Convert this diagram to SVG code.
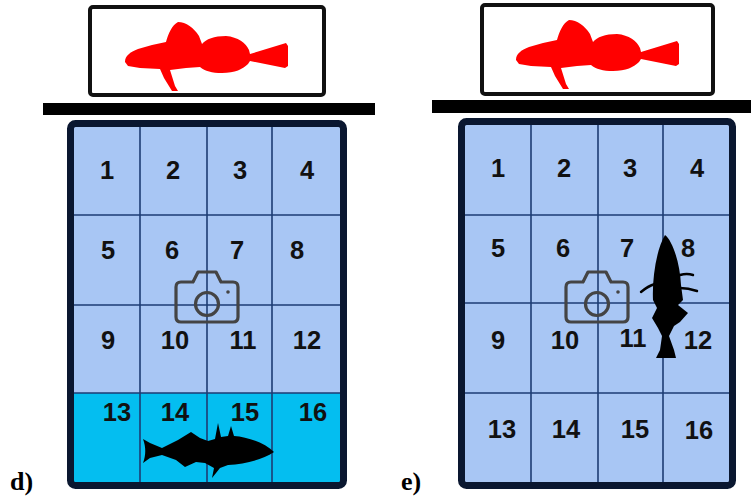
<svg xmlns="http://www.w3.org/2000/svg" width="751" height="496" viewBox="0 0 751 496">
  <defs>
    <style>
      .tank { fill: #ffffff; stroke: #111111; stroke-width: 4; }
      .bar { fill: #000000; }
      .frame { fill: none; stroke: #0a1730; stroke-width: 7; }
      .cell { fill: #a8c6f4; }
      .hot { fill: #04bef0; }
      .grid { stroke: #1d3c74; stroke-width: 1.6; fill: none; }
      .num { font-family: "Liberation Sans", Arial, sans-serif; font-weight: bold; font-size: 25.5px; fill: #111111; text-anchor: middle; }
      .cam { fill: none; stroke: #444444; stroke-width: 3.2; stroke-linejoin: round; }
      .panel { font-family: "Liberation Serif", "Times New Roman", serif; font-weight: bold; font-size: 26px; fill: #000000; }
      .red { fill: #ff0000; }
      .fish { fill: #000000; }
      .fin { fill: none; stroke: #000000; stroke-width: 2.4; stroke-linecap: round; }
    </style>
    <!-- red sculpin silhouette shown in the overhead tank -->
    <path id="sculpin" class="red" d="M 125 62 C 125 56 130 52 138 49 L 152 45 L 166 42 C 168 34 172 25 178 22 C 186 22 194 28 199 36 L 202 44 C 206 39 214 36 226 36 C 238 37 246 43 249 50 L 250 54 L 286 43 L 288 46 L 288 66 L 285 68 L 250 61 L 248 64 C 243 69 235 73 222 73 C 212 73 205 71 200 67 L 186 68 L 170 70 L 175 86 L 178 91 L 172 91 L 164 78 L 160 69 L 140 68 L 128 66 Z"/>
    <!-- camera outline icon -->
    <g id="camera">
      <path class="cam" d="M 181 282 L 193 282 L 198 272 L 216 272 L 221 282 L 233 282 Q 238 282 238 287 L 238 317 Q 238 322 233 322 L 181 322 Q 176 322 176 317 L 176 287 Q 176 282 181 282 Z"/>
      <circle class="cam" cx="207" cy="304" r="11.5"/>
      <circle cx="228" cy="292" r="1.8" fill="#444444"/>
    </g>
  </defs>

  <!-- panel d -->
  <g id="panel-d">
    <g id="tank-d">
      <rect class="tank" x="90" y="7" width="234" height="88" rx="3"/>
      <use href="#sculpin"/>
    </g>
    <rect id="shelf-d" class="bar" x="43" y="103" width="332" height="12"/>
    <g id="grid-d">
      <rect class="cell" x="74" y="127" width="266" height="266"/>
      <rect class="hot" x="74" y="393" width="266" height="89"/>
      <path class="grid" d="M 140 127 V 482 M 207 127 V 482 M 272 127 V 482 M 74 215 H 340 M 74 305 H 340 M 74 393 H 340"/>
      <rect class="frame" x="70.5" y="123.5" width="273" height="362" rx="5"/>
    </g>
    <g id="cells-d">
      <text class="num" x="107" y="179">1</text>
      <text class="num" x="173" y="179">2</text>
      <text class="num" x="240" y="179">3</text>
      <text class="num" x="307" y="179">4</text>
      <text class="num" x="108" y="259">5</text>
      <text class="num" x="172" y="259">6</text>
      <text class="num" x="237" y="259">7</text>
      <text class="num" x="297" y="259">8</text>
      <text class="num" x="108" y="349">9</text>
      <text class="num" x="175" y="349">10</text>
      <text class="num" x="243" y="349">11</text>
      <text class="num" x="307" y="349">12</text>
      <text class="num" x="117" y="421">13</text>
      <text class="num" x="175" y="421">14</text>
      <text class="num" x="245" y="421">15</text>
      <text class="num" x="313" y="421">16</text>
    </g>
    <use id="camera-d" href="#camera"/>
    <g id="fish-d">
      <path class="fish" d="M 143 439 L 150 443 L 162 448 L 178 440 L 191 432 L 200 438 L 208 441 L 215 439 L 218 423 L 221 437 L 228 436 L 231 426 L 234 436 C 248 437 265 443 274 452 C 262 460 245 464 228 465 L 220 468 L 212 478 L 214 468 L 205 463 L 196 462 L 185 467 L 176 460 L 162 455 L 150 458 L 143 463 C 146 455 146 447 143 439 Z"/>
    </g>
    <text id="label-d" class="panel" x="10" y="490">d)</text>
  </g>

  <!-- panel e -->
  <g id="panel-e">
    <g id="tank-e">
      <rect class="tank" x="482" y="5" width="231" height="89" rx="3"/>
      <use href="#sculpin" transform="translate(391,-2)"/>
    </g>
    <rect id="shelf-e" class="bar" x="432" y="100" width="319" height="13"/>
    <g id="grid-e">
      <rect class="cell" x="465" y="125" width="264" height="357"/>
      <path class="grid" d="M 531 125 V 482 M 598 125 V 482 M 663 125 V 482 M 465 215 H 729 M 465 303 H 729 M 465 393 H 729"/>
      <rect class="frame" x="461.5" y="121.5" width="271" height="364" rx="5"/>
    </g>
    <g id="cells-e">
      <text class="num" x="498" y="177">1</text>
      <text class="num" x="564" y="177">2</text>
      <text class="num" x="630" y="177">3</text>
      <text class="num" x="697" y="177">4</text>
      <text class="num" x="498" y="257">5</text>
      <text class="num" x="563" y="257">6</text>
      <text class="num" x="627" y="257">7</text>
      <text class="num" x="688" y="257">8</text>
      <text class="num" x="498" y="349">9</text>
      <text class="num" x="565" y="349">10</text>
      <text class="num" x="633" y="347">11</text>
      <text class="num" x="698" y="349">12</text>
      <text class="num" x="502" y="438">13</text>
      <text class="num" x="566" y="438">14</text>
      <text class="num" x="635" y="438">15</text>
      <text class="num" x="699" y="439">16</text>
    </g>
    <use id="camera-e" href="#camera" transform="translate(390,0)"/>
    <g id="fish-e">
      <path class="fish" d="M 665 235 C 672 240 680 262 681 285 L 683 300 L 678 305 L 688 313 L 680 322 L 674 326 L 669 336 L 674 350 L 676 358 L 656 358 L 660 350 L 662 336 L 658 328 L 652 318 L 657 308 L 653 300 C 652 280 656 250 665 235 Z"/>
      <path class="fin" d="M 641 292 Q 648 286 655 284 M 680 275 Q 687 273 693 275 M 680 288 Q 688 288 697 291"/>
    </g>
    <text id="label-e" class="panel" x="401" y="490">e)</text>
  </g>
</svg>
